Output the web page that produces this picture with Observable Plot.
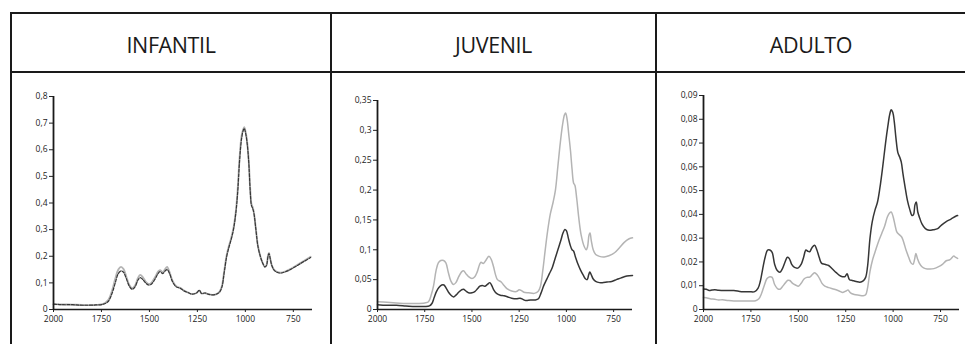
<!DOCTYPE html>
<html>
<head>
<meta charset="utf-8">
<script src="https://cdn.jsdelivr.net/npm/d3@7"></script>
<script src="https://cdn.jsdelivr.net/npm/@observablehq/plot@0.6"></script>
<style>
  html, body { margin: 0; padding: 0; background: #fff; }
  #chart { position: relative; width: 965px; height: 344px; overflow: hidden; background: #fff; font-family: "Open Sans", "DejaVu Sans", sans-serif; }
  .rule { position: absolute; background: #1a1a1a; }
  .title { position: absolute; top: 30px; height: 30px; line-height: 30px; text-align: center; font-size: 21.5px; color: #1a1a1a; letter-spacing: -0.4px; }
  .panel { position: absolute; top: 73px; }
  .panel text { fill: #222; }
</style>
</head>
<body>
<div id="chart"></div>
<script>
// Panel titles (age groups)
const panelTitles = ["INFANTIL", "JUVENIL", "ADULTO"];

// Wavenumber ticks (cm-1), shared by all panels
const xTicks = [2000, 1750, 1500, 1250, 1000, 750];

// Absorbance ticks per panel
const yTicksInfantil = [0, 0.1, 0.2, 0.3, 0.4, 0.5, 0.6, 0.7, 0.8];
const yTicksJuvenil = [0, 0.05, 0.1, 0.15, 0.2, 0.25, 0.3, 0.35];
const yTicksAdulto = [0, 0.01, 0.02, 0.03, 0.04, 0.05, 0.06, 0.07, 0.08, 0.09];

// Spectra as [wavenumber, absorbance]
const infantilDark = [[2000,0.02],[1950,0.018],[1900,0.018],[1850,0.016],[1780,0.017],[1740,0.02],[1715,0.03],[1695,0.06],[1678,0.1],[1662,0.135],[1648,0.145],[1635,0.14],[1620,0.115],[1605,0.088],[1590,0.076],[1575,0.085],[1560,0.11],[1548,0.12],[1535,0.113],[1520,0.1],[1505,0.092],[1490,0.095],[1470,0.115],[1455,0.135],[1445,0.142],[1430,0.135],[1418,0.145],[1408,0.15],[1395,0.135],[1380,0.105],[1360,0.085],[1340,0.08],[1320,0.07],[1300,0.064],[1280,0.058],[1255,0.062],[1240,0.072],[1228,0.06],[1210,0.062],[1195,0.058],[1170,0.055],[1150,0.058],[1135,0.065],[1122,0.085],[1110,0.14],[1097,0.2],[1085,0.235],[1075,0.26],[1062,0.3],[1050,0.36],[1040,0.44],[1030,0.56],[1020,0.64],[1012,0.67],[1006,0.68],[998,0.66],[990,0.62],[982,0.55],[975,0.45],[968,0.39],[962,0.38],[955,0.36],[945,0.3],[935,0.24],[922,0.2],[910,0.175],[898,0.16],[890,0.165],[882,0.2],[877,0.21],[870,0.19],[862,0.165],[850,0.148],[835,0.14],[815,0.137],[790,0.142],[760,0.152],[730,0.165],[700,0.178],[660,0.195]];
const infantilLight = [[2000,0.02],[1950,0.019],[1900,0.018],[1850,0.017],[1780,0.017],[1740,0.021],[1715,0.035],[1695,0.07],[1678,0.115],[1662,0.15],[1648,0.16],[1635,0.152],[1620,0.122],[1605,0.092],[1590,0.08],[1575,0.09],[1560,0.118],[1548,0.13],[1535,0.122],[1520,0.105],[1505,0.096],[1490,0.1],[1470,0.122],[1455,0.142],[1445,0.148],[1430,0.14],[1418,0.152],[1408,0.16],[1395,0.14],[1380,0.108],[1360,0.087],[1340,0.081],[1320,0.071],[1300,0.064],[1280,0.058],[1255,0.062],[1240,0.072],[1228,0.06],[1210,0.062],[1195,0.058],[1170,0.055],[1150,0.058],[1135,0.066],[1122,0.088],[1110,0.145],[1097,0.205],[1085,0.24],[1075,0.265],[1062,0.305],[1050,0.365],[1040,0.45],[1030,0.57],[1020,0.65],[1012,0.675],[1006,0.685],[998,0.665],[990,0.625],[982,0.555],[975,0.455],[968,0.395],[962,0.385],[955,0.362],[945,0.302],[935,0.242],[922,0.2],[910,0.175],[898,0.16],[890,0.166],[882,0.202],[877,0.212],[870,0.19],[862,0.166],[850,0.149],[835,0.141],[815,0.138],[790,0.143],[760,0.154],[730,0.167],[700,0.18],[660,0.198]];

const juvenilLight = [[2000,0.013],[1950,0.012],[1900,0.011],[1850,0.01],[1800,0.01],[1750,0.011],[1730,0.013],[1715,0.025],[1703,0.04],[1690,0.065],[1678,0.078],[1665,0.082],[1650,0.082],[1638,0.078],[1625,0.062],[1612,0.048],[1598,0.042],[1585,0.045],[1570,0.055],[1555,0.063],[1545,0.065],[1532,0.06],[1518,0.055],[1500,0.052],[1485,0.055],[1472,0.063],[1460,0.075],[1452,0.079],[1440,0.077],[1425,0.083],[1410,0.089],[1398,0.084],[1386,0.072],[1375,0.058],[1365,0.05],[1345,0.046],[1330,0.04],[1315,0.035],[1290,0.031],[1265,0.03],[1250,0.033],[1240,0.032],[1225,0.029],[1200,0.028],[1170,0.027],[1150,0.03],[1138,0.038],[1125,0.065],[1112,0.1],[1100,0.13],[1085,0.16],[1070,0.18],[1058,0.2],[1045,0.24],[1032,0.28],[1020,0.31],[1010,0.326],[1004,0.329],[996,0.318],[988,0.295],[978,0.265],[970,0.235],[962,0.212],[955,0.208],[945,0.185],[935,0.155],[922,0.125],[905,0.105],[895,0.1],[888,0.105],[880,0.125],[875,0.128],[868,0.115],[858,0.1],[845,0.092],[825,0.089],[800,0.088],[775,0.09],[745,0.095],[720,0.103],[695,0.112],[670,0.118],[650,0.12]];
const juvenilDark = [[2000,0.008],[1950,0.007],[1900,0.007],[1850,0.006],[1800,0.005],[1750,0.005],[1725,0.006],[1712,0.01],[1700,0.02],[1688,0.03],[1675,0.037],[1660,0.041],[1648,0.041],[1635,0.035],[1622,0.028],[1608,0.023],[1597,0.021],[1585,0.024],[1570,0.029],[1555,0.033],[1545,0.034],[1532,0.031],[1518,0.028],[1500,0.028],[1485,0.03],[1470,0.035],[1458,0.039],[1445,0.04],[1432,0.039],[1418,0.042],[1405,0.045],[1395,0.04],[1383,0.032],[1370,0.027],[1350,0.024],[1330,0.023],[1310,0.021],[1290,0.019],[1265,0.018],[1245,0.019],[1230,0.017],[1215,0.015],[1190,0.016],[1165,0.016],[1148,0.018],[1135,0.027],[1120,0.04],[1105,0.05],[1090,0.06],[1075,0.07],[1060,0.085],[1045,0.1],[1030,0.115],[1018,0.128],[1008,0.134],[1000,0.132],[990,0.12],[980,0.108],[970,0.1],[962,0.098],[952,0.088],[940,0.077],[925,0.066],[910,0.057],[898,0.051],[890,0.05],[882,0.058],[876,0.063],[868,0.058],[858,0.051],[845,0.047],[825,0.045],[810,0.045],[785,0.046],[760,0.047],[735,0.05],[710,0.053],[680,0.056],[650,0.057]];

const adultoDark = [[2000,0.0086],[1985,0.0085],[1970,0.008],[1955,0.0082],[1940,0.0083],[1920,0.0081],[1880,0.008],[1840,0.008],[1800,0.0075],[1760,0.0075],[1730,0.0075],[1712,0.009],[1700,0.012],[1688,0.017],[1675,0.022],[1662,0.025],[1650,0.025],[1638,0.024],[1625,0.019],[1612,0.0165],[1597,0.0157],[1585,0.017],[1570,0.02],[1558,0.022],[1548,0.0215],[1535,0.019],[1520,0.0177],[1500,0.0175],[1485,0.019],[1472,0.022],[1460,0.025],[1450,0.0245],[1440,0.0243],[1428,0.026],[1414,0.027],[1402,0.025],[1390,0.022],[1378,0.0195],[1360,0.019],[1340,0.0185],[1320,0.017],[1300,0.0155],[1275,0.014],[1255,0.0138],[1243,0.015],[1230,0.0125],[1215,0.0122],[1195,0.0118],[1175,0.0115],[1158,0.012],[1145,0.0135],[1135,0.018],[1122,0.03],[1110,0.037],[1095,0.042],[1083,0.045],[1070,0.051],[1055,0.06],[1040,0.07],[1028,0.077],[1018,0.082],[1010,0.084],[1002,0.083],[994,0.079],[985,0.072],[975,0.066],[965,0.064],[957,0.062],[948,0.057],[938,0.052],[925,0.046],[912,0.042],[900,0.0395],[892,0.04],[885,0.044],[878,0.0452],[870,0.041],[860,0.0385],[848,0.036],[830,0.034],[810,0.0333],[790,0.0335],[765,0.034],[745,0.0355],[720,0.037],[695,0.038],[670,0.0392],[660,0.0395]];
const adultoLight = [[2000,0.005],[1985,0.0049],[1965,0.0045],[1940,0.0043],[1920,0.004],[1900,0.0041],[1870,0.0038],[1840,0.0036],[1800,0.0036],[1760,0.0036],[1725,0.0037],[1708,0.0045],[1695,0.0065],[1680,0.01],[1665,0.013],[1650,0.0138],[1638,0.0135],[1625,0.0105],[1610,0.0088],[1597,0.0085],[1585,0.0095],[1570,0.011],[1555,0.0123],[1545,0.0122],[1530,0.011],[1515,0.0103],[1500,0.0098],[1485,0.011],[1470,0.0128],[1455,0.0135],[1440,0.0136],[1425,0.0148],[1414,0.0155],[1400,0.0145],[1388,0.013],[1375,0.011],[1360,0.0098],[1340,0.0092],[1310,0.0085],[1285,0.0078],[1265,0.0072],[1248,0.0078],[1238,0.0082],[1225,0.007],[1205,0.0063],[1180,0.006],[1158,0.0058],[1145,0.0062],[1135,0.009],[1122,0.016],[1108,0.021],[1092,0.025],[1075,0.029],[1060,0.032],[1045,0.035],[1030,0.039],[1020,0.0405],[1010,0.041],[1000,0.039],[990,0.0355],[980,0.0325],[968,0.0315],[955,0.0305],[945,0.0285],[932,0.025],[918,0.022],[905,0.0195],[895,0.019],[887,0.021],[880,0.0235],[872,0.0215],[862,0.0195],[848,0.018],[830,0.0172],[805,0.017],[785,0.0172],[760,0.018],[740,0.019],[720,0.0205],[700,0.021],[680,0.0225],[672,0.022],[660,0.0215]];

const DARK = "#363636";
const LIGHT = "#b4b4b4";

const chart = document.getElementById("chart");

// Table frame: top edge, header separator, left edge and column separators
function rule(left, top, width, height) {
  const d = document.createElement("div");
  d.className = "rule";
  Object.assign(d.style, {left: left + "px", top: top + "px", width: width + "px", height: height + "px"});
  chart.appendChild(d);
}
rule(10, 12, 955, 2);
rule(10, 71, 955, 2);
rule(10, 12, 2, 332);
rule(330, 12, 2, 332);
rule(655, 12, 2, 332);

const cells = [
  {left: 12, width: 318},
  {left: 332, width: 323},
  {left: 657, width: 308}
];
panelTitles.forEach((t, i) => {
  const d = document.createElement("div");
  d.className = "title";
  d.textContent = t;
  d.style.left = cells[i].left + "px";
  d.style.width = cells[i].width + "px";
  chart.appendChild(d);
});

const comma = v => (v === 0 ? "0" : d3.format(".2~f")(v).replace(".", ","));

function spectrumPanel({left, width, marginLeft, marginRight, marginTop, yMax, yTicks, series}) {
  const svg = Plot.plot({
    width,
    height: 271,
    marginLeft,
    marginRight,
    marginTop,
    marginBottom: 35,
    style: {fontFamily: "'Open Sans', 'DejaVu Sans', sans-serif", fontSize: "8.5px", color: "#222", background: "transparent", overflow: "visible"},
    x: {domain: [2000, 650], ticks: xTicks, tickSize: 3, tickPadding: 3, tickFormat: d => String(d), label: null},
    y: {domain: [0, yMax], ticks: yTicks, tickSize: 4, tickPadding: 2, tickFormat: comma, label: null},
    marks: [
      ...series.map(s => Plot.line(s.data, {
        x: d => d[0], y: d => d[1], stroke: s.color, strokeWidth: s.width ?? 1.5,
        strokeDasharray: s.dash, curve: "catmull-rom"
      })),
      Plot.ruleX([2000], {stroke: "#1a1a1a", strokeWidth: 1.8}),
      Plot.ruleY([0], {stroke: "#1a1a1a", strokeWidth: 1.5})
    ]
  });
  svg.classList.add("panel");
  svg.style.left = left + "px";
  chart.appendChild(svg);
}

spectrumPanel({
  left: 11, width: 320, marginLeft: 42, marginRight: 19, marginTop: 23,
  yMax: 0.8, yTicks: yTicksInfantil,
  series: [
    {data: infantilLight, color: LIGHT, width: 1.9},
    {data: infantilDark, color: DARK, width: 1.2, dash: "3,1.5"}
  ]
});

spectrumPanel({
  left: 331, width: 325, marginLeft: 46, marginRight: 24, marginTop: 27,
  yMax: 0.35, yTicks: yTicksJuvenil,
  series: [
    {data: juvenilLight, color: LIGHT},
    {data: juvenilDark, color: DARK}
  ]
});

spectrumPanel({
  left: 656, width: 309, marginLeft: 47, marginRight: 6, marginTop: 22,
  yMax: 0.09, yTicks: yTicksAdulto,
  series: [
    {data: adultoLight, color: LIGHT},
    {data: adultoDark, color: DARK}
  ]
});
</script>
</body>
</html>
